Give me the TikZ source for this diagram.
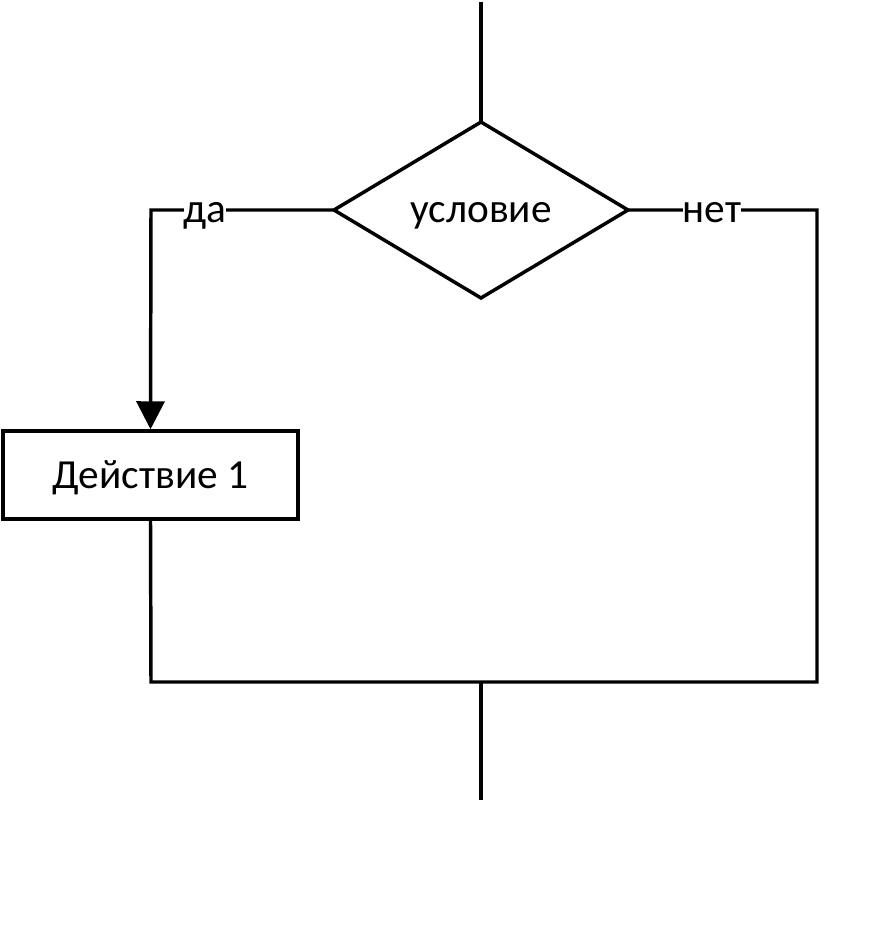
\documentclass[tikz,border=0pt]{standalone}
\usepackage{fontspec}
\setmainfont{Carlito}
\usetikzlibrary{arrows.meta}
\begin{document}
\begin{tikzpicture}[x=0.75pt,y=-0.75pt,
  ln/.style={line width=2.6pt},
  txt/.style={anchor=base,inner sep=0pt,font=\fontsize{31}{34}\selectfont},
  lbl/.style={txt,fill=white,inner xsep=0pt,inner ysep=2pt},
  arr/.style={-{Triangle[length=21pt,width=21pt]}}]
\useasboundingbox (0,0) rectangle (893,931);
\coordinate (top) at (481,2);
\path[draw,ln,line join=miter] (481,122) coordinate (dt) -- (628,210) coordinate (dr) -- (481,298) coordinate (db) -- (334,210) coordinate (dl) -- cycle;
\node[txt] (cond) at (481,222) {условие};
\node[draw,ln,minimum width=295*0.75pt,minimum height=88*0.75pt,inner sep=0pt] (act) at (150.5,475) {};
\node[txt] (actt) at (150.5,488) {Действие 1};
\coordinate (lc) at (151,210);
\coordinate (rc) at (817,210);
\coordinate (jl) at (151,682);
\coordinate (jr) at (817,682);
\coordinate (jm) at (481,682);
\coordinate (bot) at (481,800);
\draw[ln] (top) -- (dt);
\draw[ln,line join=miter,arr] (dl) -- (lc) -- (act.north);
\draw[ln,line join=miter] (dr) -- (rc) -- (jr) -- (jl) -- (act.south);
\draw[ln] (jm) -- (bot);
\node[lbl] (yes) at (205,222) {да};
\node[lbl] (no) at (712,222) {нет};
\end{tikzpicture}
\end{document}
